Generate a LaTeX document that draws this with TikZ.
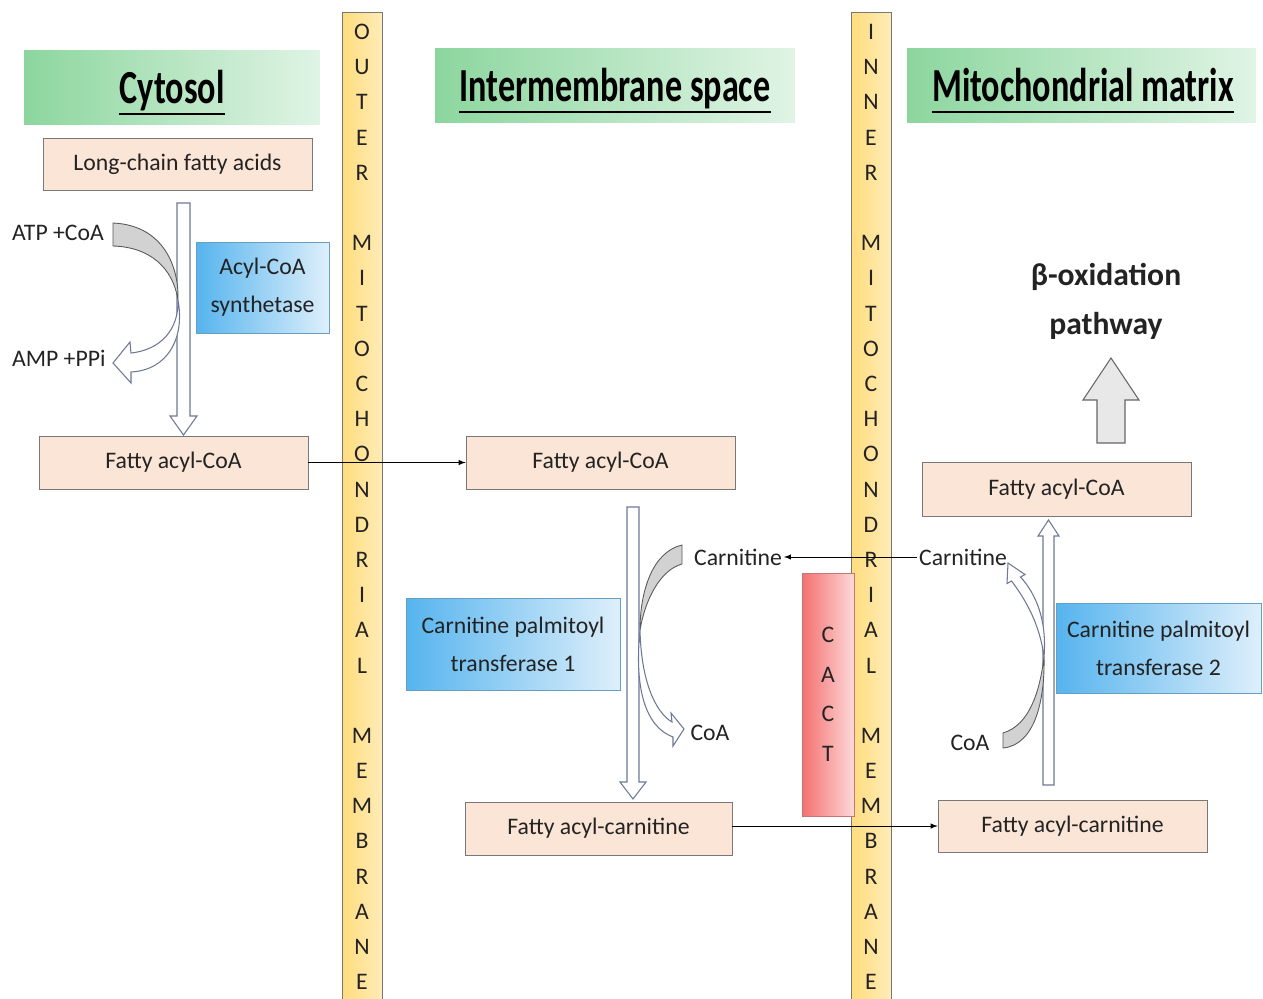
\documentclass[tikz,border=0pt]{standalone}
\usepackage{fontspec}
\setmainfont{Carlito}
\newfontfamily\headfont{Carlito}[FakeStretch=0.72]
\usepackage{tikz}
\usetikzlibrary{calc}
\usetikzlibrary{arrows}
\usetikzlibrary{positioning}
\definecolor{peach}{RGB}{251,229,214}
\definecolor{boxline}{RGB}{120,120,120}
\definecolor{membfill}{RGB}{255,220,125}
\definecolor{greenL}{RGB}{140,214,158}
\definecolor{greenR}{RGB}{224,244,229}
\definecolor{blueL}{RGB}{86,180,238}
\definecolor{blueR}{RGB}{222,239,251}
\definecolor{redL}{RGB}{244,112,112}
\definecolor{redR}{RGB}{252,216,216}
\definecolor{arrline}{RGB}{110,120,150}
\definecolor{txt}{RGB}{35,35,35}
\tikzset{box/.style={draw=boxline,fill=peach,minimum width=5.38cm,minimum height=1.06cm,font=\fontsize{13.5}{16}\selectfont,text=txt}}
\tikzset{enz/.style={draw=blueL!60!gray,left color=blueL,right color=blueR,align=center,font=\fontsize{13.5}{21.5}\selectfont,text=txt}}
\tikzset{region/.style={left color=greenL,right color=greenR,minimum height=1.5cm}}
\tikzset{regtext/.style={font=\headfont\bfseries\fontsize{27}{30}\selectfont,text=black,inner sep=0pt,anchor=base}}
\tikzset{membbar/.style={draw=boxline,left color=membfill,right color=membfill!55!white}}
\tikzset{lbl/.style={font=\fontsize{13.5}{16}\selectfont,text=txt,inner sep=1pt}}
\tikzset{hollow/.style={draw=arrline,fill=white,line width=0.6pt}}
\tikzset{curl/.style={draw=gray!70!black,fill=gray!35,line width=0.5pt}}

\begin{document}
\begin{tikzpicture}[x=0.02cm,y=-0.02cm]
\useasboundingbox (0,0) rectangle (1263,998);

% regions
\node[region,minimum width=5.92cm] (hc) at (172,87.5) {};
\node[region,minimum width=7.2cm] (hi) at (615,85.5) {};
\node[region,minimum width=6.98cm] (hm) at (1081.5,85.5) {};
\node[regtext] (tc) at (172,103) {Cytosol};
\node[regtext] (ti) at (615,101) {Intermembrane space};
\node[regtext] (tm) at (1083,101) {Mitochondrial matrix};
\foreach \t in {tc, ti, tm}
  {
 \draw[line width=1.6pt] ($ (\t.base west)+(0,11) $) -- ($ (\t.base east)+(0,11) $);
 }

% membranes
\draw[membbar] (342,12) rectangle (382,1000);
\draw[membbar] (851,12) rectangle (891,1000);
\foreach \l [count=\i] in {O,U,T,E,R,{},M,I,T,O,C,H,O,N,D,R,I,A,L,{},M,E,M,B,R,A,N,E}
  {
 \pgfmathsetmacro{\y}{32+35.19*(\i-1)}
 \node[lbl] (om\i) at (362,\y) {\l};
 }
\foreach \l [count=\i] in {I,N,N,E,R,{},M,I,T,O,C,H,O,N,D,R,I,A,L,{},M,E,M,B,R,A,N,E}
  {
 \pgfmathsetmacro{\y}{32+35.19*(\i-1)}
 \node[lbl] (im\i) at (871,\y) {\l};
 }
\node[draw=redL!60!gray,left color=redL,right color=redR,minimum width=1.04cm,minimum height=4.86cm,
      align=center,font=\fontsize{13.5}{22.5}\selectfont,text=txt] (cact) at (828,694.5) {C\\A\\C\\T};

% metabolites
\node[box,minimum height=1.04cm] (lcfa) at (177.5,164) {Long-chain fatty acids};
\node[box] (fa1) at (173.5,462.5) {Fatty acyl-CoA};
\node[box] (fa2) at (600.5,462.5) {Fatty acyl-CoA};
\node[box,minimum width=5.34cm] (fc2) at (598.5,828.5) {Fatty acyl-carnitine};
\node[box,minimum height=1.08cm] (fa3) at (1056.5,489) {Fatty acyl-CoA};
\node[box,minimum height=1.04cm] (fc3) at (1072.5,826) {Fatty acyl-carnitine};

% enzymes
\node[enz,minimum width=2.66cm,minimum height=1.82cm] (acs) at (262.5,287.5) {Acyl-CoA\\synthetase};
\node[enz,minimum width=4.28cm,minimum height=1.84cm] (cpt1) at (513,644) {Carnitine palmitoyl\\transferase 1};
\node[enz,minimum width=4.1cm,minimum height=1.8cm] (cpt2) at (1158.5,648) {Carnitine palmitoyl\\transferase 2};

\node[lbl,anchor=west] (atp) at (10,233) {ATP +CoA};
\node[lbl,anchor=west] (amp) at (10,358) {AMP +PPi};
\node[lbl] (ci) at (738,557) {Carnitine};
\node[lbl] (coa1) at (710,733) {CoA};
\node[lbl] (cm) at (963,557) {Carnitine};
\node[lbl] (coa2) at (970,743) {CoA};
\node[align=center,font=\bfseries\fontsize{18}{28}\selectfont,text=txt] (box) at (1106,301) {β-oxidation\\pathway};

% block arrows
\draw[hollow] (177,203) -- (190,203) -- (190,416) -- (197,416) -- (183.5,435) -- (170,416) -- (177,416) -- cycle;
\draw[hollow] (627,507) -- (639,507) -- (639,782) -- (646,782) -- (633,799) -- (620,782) -- (627,782) -- cycle;
\draw[hollow] (1043,785) -- (1054,785) -- (1054,536) -- (1059,536) -- (1048.5,520) -- (1038,536) -- (1043,536) -- cycle;
\draw[draw=gray!80!black,fill=gray!18,line width=0.6pt] (1097,443) -- (1125,443) -- (1125,400) -- (1139,400) -- (1111,358) -- (1083,400) -- (1097,400) -- cycle;

% side reactions
\draw[curl] (113,223) .. controls (160,225) and (179,262) .. (178,300) .. controls (173,268) and (150,247) .. (113,246) -- cycle;
\draw[hollow] (178,300) .. controls (179,330) and (160,350) .. (131,353) -- (130,342) -- (113,363) -- (131,383) -- (131,372) .. controls (168,370) and (185,338) .. (178,300) -- cycle;
\draw[curl] (682,545) .. controls (652,552) and (640,592) .. (640,630) .. controls (645,600) and (660,570) .. (682,564) -- cycle;
\draw[hollow] (640,630) .. controls (641,680) and (655,712) .. (672,722) -- (671,713) -- (684,729) -- (673,746) -- (673,737) .. controls (646,727) and (634,690) .. (640,630) -- cycle;
\draw[curl] (1003,748) .. controls (1035,745) and (1045,700) .. (1044,657) .. controls (1040,690) and (1030,725) .. (1003,733) -- cycle;
\draw[hollow] (1044,657) .. controls (1047,620) and (1036,594) .. (1020.5,577) -- (1025,574.5) -- (1008,563) -- (1007,583.5) -- (1011.5,581) .. controls (1026,600) and (1040,625) .. (1044,657) -- cycle;

% transport
\draw[-latex,thin] (fa1.east) -- (fa2.west);
\draw[-latex,thin] (cm.west) -- (ci.east);
\draw[-latex,thin] (fc2.east |- fc3.west) -- (fc3.west);

\end{tikzpicture}
\end{document}
